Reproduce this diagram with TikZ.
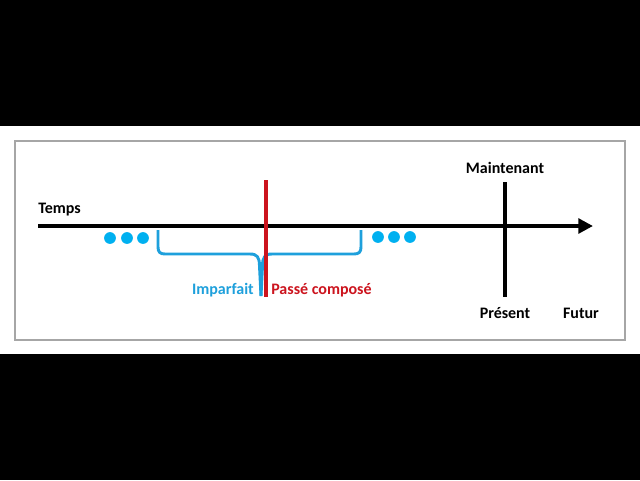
\documentclass[tikz,border=0pt]{standalone}
\usepackage{fontspec}
\setmainfont{Carlito}
\usetikzlibrary{arrows.meta}
\definecolor{ciel}{RGB}{0,176,240}
\definecolor{brace}{RGB}{30,160,220}
\definecolor{rouge}{RGB}{204,20,30}
\tikzset{
  lbl/.style={font=\fontsize{12}{14}\selectfont\bfseries, inner sep=0pt},
  dot/.style={circle, fill=ciel, minimum size=8.8pt, inner sep=0pt},
}
\begin{document}
\begin{tikzpicture}[x=0.75pt,y=-0.75pt]
\useasboundingbox (0,0) rectangle (640,480);
\fill[black] (0,0) rectangle (640,480);
\fill[white] (0,126) rectangle (640,354);
\draw[gray!70, line width=0.9pt] (15,141) rectangle (625,340);
% axis
\coordinate (a0) at (38,226);
\coordinate (a1) at (593,226);
\draw[line width=3pt, -{Triangle[length=11pt,width=11pt]}] (a0) -- (a1);
\node[lbl, anchor=west] (temps) at (38,210) {Temps};
% present line
\coordinate (p0) at (505,182);
\coordinate (p1) at (505,297);
\draw[line width=2.4pt] (p0) -- (p1);
\node[lbl] (maint) at (505,168) {Maintenant};
\node[lbl] (pres) at (505,313) {Présent};
\node[lbl] (futur) at (581,313) {Futur};
% brace
\coordinate (bl) at (158,230);
\coordinate (br) at (361,230);
\coordinate (bt) at (261,296);
\draw[brace, line width=2.2pt, line join=round]
  (bl) -- (158,247) .. controls (158,252) and (160,254) .. (165,254) -- (250,254)
  .. controls (257,254) and (259.5,257) .. (259.5,266) -- (bt);
\draw[brace, line width=2.2pt, line join=round]
  (br) -- (361,247) .. controls (361,252) and (359,254) .. (354,254) -- (272,254)
  .. controls (265,254) and (262.5,257) .. (262.5,266) -- (bt);
% red line
\coordinate (r0) at (266,180);
\coordinate (r1) at (266,297);
\draw[rouge, line width=3pt] (r0) -- (r1);
\node[lbl, text=brace, anchor=east] (imp) at (254,290) {Imparfait};
\node[lbl, text=rouge, anchor=west] (pc) at (271,290) {Passé composé};
% dots
\node[dot] (d1) at (110,238) {};
\node[dot] (d2) at (127,238) {};
\node[dot] (d3) at (143,238) {};
\node[dot] (d4) at (378,237) {};
\node[dot] (d5) at (394,237) {};
\node[dot] (d6) at (410,237) {};
\end{tikzpicture}
\end{document}
